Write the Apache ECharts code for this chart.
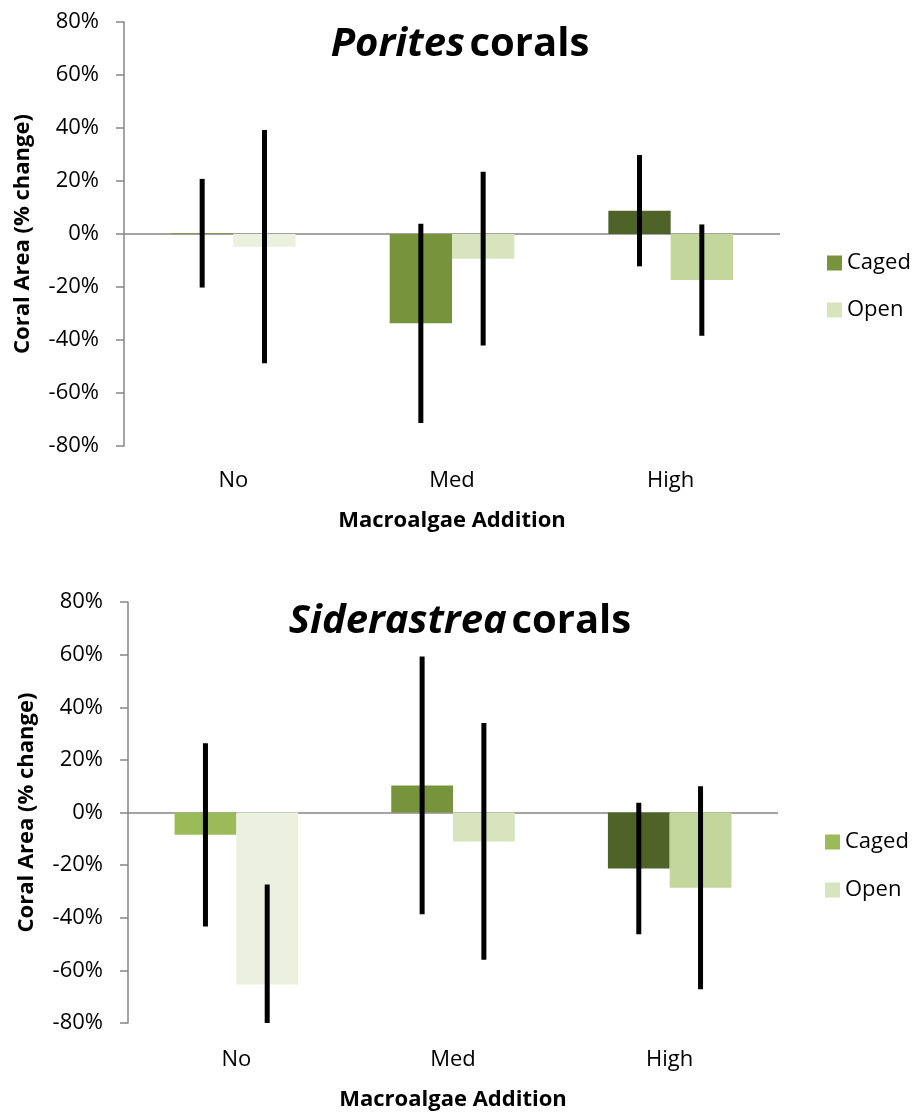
<!DOCTYPE html>
<html>
<head>
<meta charset="utf-8">
<script src="https://cdn.jsdelivr.net/npm/echarts@6/dist/echarts.min.js"></script>
<style>
html,body{margin:0;padding:0;background:#fff;}
#c{width:915px;height:1114px;}
</style>
</head>
<body>
<div id="c"></div>
<script>
// ---- data ----
const categories = ['No', 'Med', 'High'];
const seriesNames = ['Caged', 'Open'];
// Porites corals (% change)
const poritesCaged = [0.3, -33.7, 8.8];
const poritesCagedErr = [20.5, 37.6, 21];
const poritesOpen = [-4.8, -9.3, -17.4];
const poritesOpenErr = [44, 32.8, 21];
// Siderastrea corals (% change)
const sidCaged = [-8.5, 10.3, -21.3];
const sidCagedErr = [34.8, 49, 25];
const sidOpen = [-65.4, -11, -28.6];
const sidOpenErr = [38, 45, 38.6];
const yTicks = [-80, -60, -40, -20, 0, 20, 40, 60, 80];

// ---- styles ----
const poritesCagedColors = ['#77933C', '#77933C', '#4F6228'];
const poritesOpenColors = ['#EBF1DE', '#D7E4BD', '#C3D69B'];
const sidCagedColors = ['#9BBB59', '#77933C', '#4F6228'];
const sidOpenColors = ['#EBF1DE', '#D7E4BD', '#C3D69B'];
const FONT = 'Open Sans';

function colored(vals, colors) {
  return vals.map((v, i) => ({ value: v, itemStyle: { color: colors[i] } }));
}
function errData(vals, errs) {
  return vals.map((v, i) => [i, v - errs[i], v + errs[i]]);
}
function errSeries(name, xi, yi, vals, errs, offsetSign) {
  return {
    type: 'custom', name: name + ' err', xAxisIndex: xi, yAxisIndex: yi,
    data: errData(vals, errs), z: 10, clip: true, silent: true,
    encode: { x: 0, y: [1, 2] },
    renderItem: function (params, api) {
      const c = api.value(0);
      const lo = api.coord([c, api.value(1)]);
      const hi = api.coord([c, api.value(2)]);
      const bw = api.size([1, 0])[0] * 0.57 / 2;
      const x = lo[0] + offsetSign * bw / 2;
      return {
        type: 'line',
        shape: { x1: x, y1: lo[1], x2: x, y2: hi[1] },
        style: { stroke: '#000', lineWidth: 5 }
      };
    }
  };
}
function xAxisDef(gi, labelMargin, nameGap) {
  return {
    type: 'category', gridIndex: gi, data: categories,
    axisLine: { show: false }, axisTick: { show: false },
    axisLabel: { fontFamily: FONT, fontSize: 22, color: '#000', margin: labelMargin },
    name: 'Macroalgae Addition', nameLocation: 'middle', nameGap: nameGap,
    nameTextStyle: { fontFamily: FONT, fontSize: 22, fontWeight: 'bold', color: '#000' }
  };
}
function yAxisDef(gi) {
  return {
    type: 'value', gridIndex: gi, min: -80, max: 80, interval: 20,
    axisLine: { show: true, lineStyle: { color: '#868686', width: 1.5 } },
    axisTick: { show: true, inside: false, length: 8, lineStyle: { color: '#868686', width: 1.5 } },
    splitLine: { show: false },
    axisLabel: { fontFamily: FONT, fontSize: 22, color: '#000', margin: 25,
      formatter: v => yTicks.includes(v) ? v + '%' : '' },
    name: 'Coral Area (% change)', nameLocation: 'middle', nameGap: 90,
    nameTextStyle: { fontFamily: FONT, fontSize: 22, fontWeight: 'bold', color: '#000' }
  };
}
function barSeries(name, xi, yi, vals, colors, legendColor, withZero) {
  const s = {
    type: 'bar', name: name, xAxisIndex: xi, yAxisIndex: yi,
    data: colored(vals, colors), barGap: '0%', barCategoryGap: '43%',
    itemStyle: { color: legendColor }
  };
  if (withZero) {
    s.markLine = {
      silent: true, symbol: 'none', label: { show: false },
      lineStyle: { color: '#868686', type: 'solid', width: 1.5 },
      data: [{ yAxis: 0 }], z: 1
    };
  }
  return s;
}
function titleText(italicPart, plainPart, top) {
  return {
    text: '{i|' + italicPart + '} {b|' + plainPart + '}', left: 455, textAlign: 'center', top: top,
    textStyle: { rich: {
      i: { fontFamily: FONT, fontSize: 40, fontWeight: 'bold', fontStyle: 'italic', color: '#000' },
      b: { fontFamily: FONT, fontSize: 40, fontWeight: 'bold', color: '#000' } } }
  };
}

const chart = echarts.init(document.getElementById('c'));
chart.setOption({
  animation: false,
  textStyle: { fontFamily: FONT },
  title: [
    titleText('Porites', 'corals', 20),
    titleText('Siderastrea', 'corals', 597)
  ],
  legend: [
    { orient: 'vertical', left: 822, top: 247, itemGap: 25, itemWidth: 15, itemHeight: 15,
      icon: 'rect', selectedMode: false,
      textStyle: { fontFamily: FONT, fontSize: 22, color: '#000' },
      data: [{ name: 'Caged', itemStyle: { color: '#77933C' } },
             { name: 'Open', itemStyle: { color: '#D7E4BD' } }] },
    { orient: 'vertical', left: 820, top: 826, itemGap: 26, itemWidth: 15, itemHeight: 15,
      icon: 'rect', selectedMode: false,
      textStyle: { fontFamily: FONT, fontSize: 22, color: '#000' },
      data: [{ name: 'Caged', itemStyle: { color: '#9BBB59' } },
             { name: 'Open', itemStyle: { color: '#D7E4BD' } }] }
  ],
  grid: [
    { left: 124, top: 22, width: 656, height: 424 },
    { left: 128, top: 602, width: 650, height: 421 }
  ],
  xAxis: [xAxisDef(0, 24, 64), xAxisDef(1, 26, 66)],
  yAxis: [yAxisDef(0), yAxisDef(1)],
  series: [
    barSeries('Caged', 0, 0, poritesCaged, poritesCagedColors, '#77933C', true),
    barSeries('Open', 0, 0, poritesOpen, poritesOpenColors, '#D7E4BD', false),
    errSeries('Caged', 0, 0, poritesCaged, poritesCagedErr, -1),
    errSeries('Open', 0, 0, poritesOpen, poritesOpenErr, 1),
    barSeries('Caged', 1, 1, sidCaged, sidCagedColors, '#9BBB59', true),
    barSeries('Open', 1, 1, sidOpen, sidOpenColors, '#D7E4BD', false),
    errSeries('Caged', 1, 1, sidCaged, sidCagedErr, -1),
    errSeries('Open', 1, 1, sidOpen, sidOpenErr, 1)
  ]
});
</script>
</body>
</html>
